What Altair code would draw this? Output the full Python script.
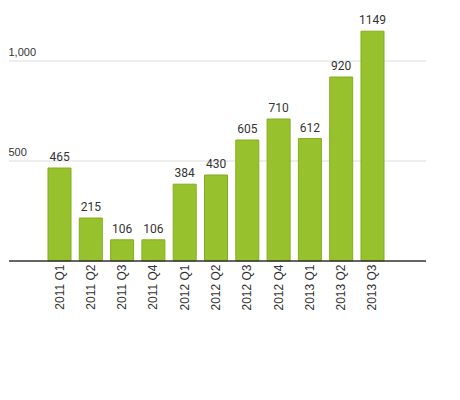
import pandas as pd
import altair as alt

quarters = ["2011 Q1", "2011 Q2", "2011 Q3", "2011 Q4",
            "2012 Q1", "2012 Q2", "2012 Q3", "2012 Q4",
            "2013 Q1", "2013 Q2", "2013 Q3"]
values = [465, 215, 106, 106, 384, 430, 605, 710, 612, 920, 1149]
grid_values = [500, 1000]

df = pd.DataFrame({"quarter": quarters, "value": values})
grid_df = pd.DataFrame({"value": grid_values})

# bars only use the middle of the plot, gridlines run full width
x = alt.X(
    "quarter:N",
    sort=quarters,
    title=None,
    scale=alt.Scale(range=[39, 375], paddingInner=0.265, paddingOuter=0),
    axis=alt.Axis(
        labelAngle=-90,
        labelFont="Liberation Sans",
        labelFontSize=12,
        labelColor="#333333",
        labelPadding=3,
        ticks=False,
        domain=False,
    ),
)
y = alt.Y(
    "value:Q",
    title=None,
    scale=alt.Scale(domain=[0, 1250], nice=False),
    axis=alt.Axis(
        values=grid_values,
        format=",d",
        domain=False,
        ticks=False,
        grid=False,
        labelAlign="left",
        labelBaseline="bottom",
        labelPadding=1,
        labelOffset=-4,
        labelFont="Liberation Sans",
        labelFontSize=11,
        labelColor="#333333",
    ),
)

grid = alt.Chart(grid_df).mark_rule(color="#dddddd", strokeWidth=1).encode(
    y=alt.Y("value:Q"), x=alt.value(0), x2=alt.value(417)
)

bars = alt.Chart(df).mark_bar(
    color="#97c22e", stroke="#84ad1c", strokeWidth=1
).encode(x=x, y=y)

labels = alt.Chart(df).mark_text(
    baseline="bottom", dy=-4, font="Roboto", fontSize=12, color="#333333"
).encode(x=x, y=y, text="value:Q")

baseline = alt.Chart(grid_df).mark_rule(color="#333333", strokeWidth=1).encode(
    y=alt.datum(0), x=alt.value(0), x2=alt.value(417)
)

chart = (
    alt.layer(grid, bars, labels, baseline)
    .properties(
        width=417,
        height=250,
        padding={"left": 0, "top": 3, "right": 0, "bottom": 0},
    )
    .configure_view(stroke=None)
)

chart.save("out.html", embed_options={"renderer": "svg", "actions": False})
